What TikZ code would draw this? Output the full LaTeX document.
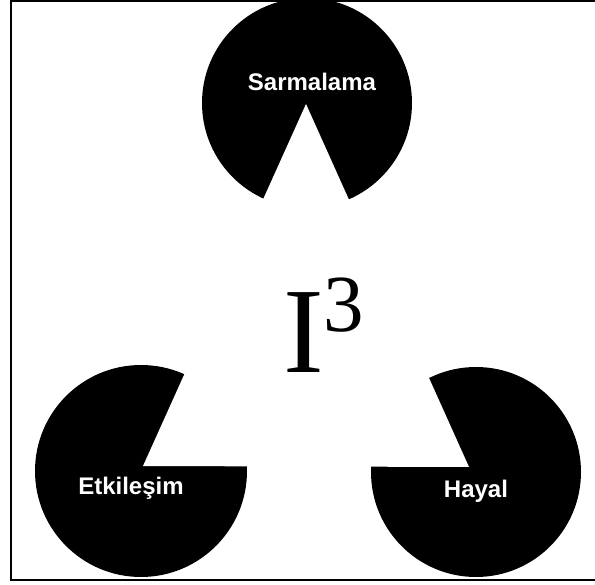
\documentclass[tikz,border=0pt]{standalone}
\usepackage{fontspec}
\setmainfont{Liberation Serif}
\newfontfamily\labelfont{Liberation Sans}
\begin{document}
\begin{tikzpicture}[x=1pt,y=-1pt,
  pac/.style={fill=black},
  lbl/.style={text=white, font=\labelfont\bfseries\fontsize{24}{24}\selectfont, anchor=base, inner sep=0pt},
  frameline/.style={draw=black, line width=2pt}]
\useasboundingbox (0,0) rectangle (595,585);
\clip (0,0) rectangle (595,585);
\fill[white] (0,0) rectangle (595,585);
% triangle corners
\coordinate (T) at (306,104);
\coordinate (L) at (143,466);
\coordinate (R) at (469,467);
% pac-man circles
\fill[pac] (307,103) circle (105pt);
\fill[pac] (141,471) circle (106pt);
\fill[pac] (476,472) circle (105pt);
% illusory triangle cut-outs
\fill[white] (T) -- (L) -- (R) -- cycle;
% frame
\draw[frameline] (600,1) -- (11,1) -- (11,580) -- (600,580);
% labels
\node[lbl] (sar) at (312,91) {Sarmalama};
\node[lbl] (etk) at (131,495) {Etkileşim};
\node[lbl] (hay) at (476,497) {Hayal};
\node[anchor=base west, inner sep=0pt] (ithree) at (283,373)
  {\fontsize{122}{122}\selectfont I\raisebox{41pt}{\fontsize{81}{81}\selectfont 3}};
\end{tikzpicture}
\end{document}
